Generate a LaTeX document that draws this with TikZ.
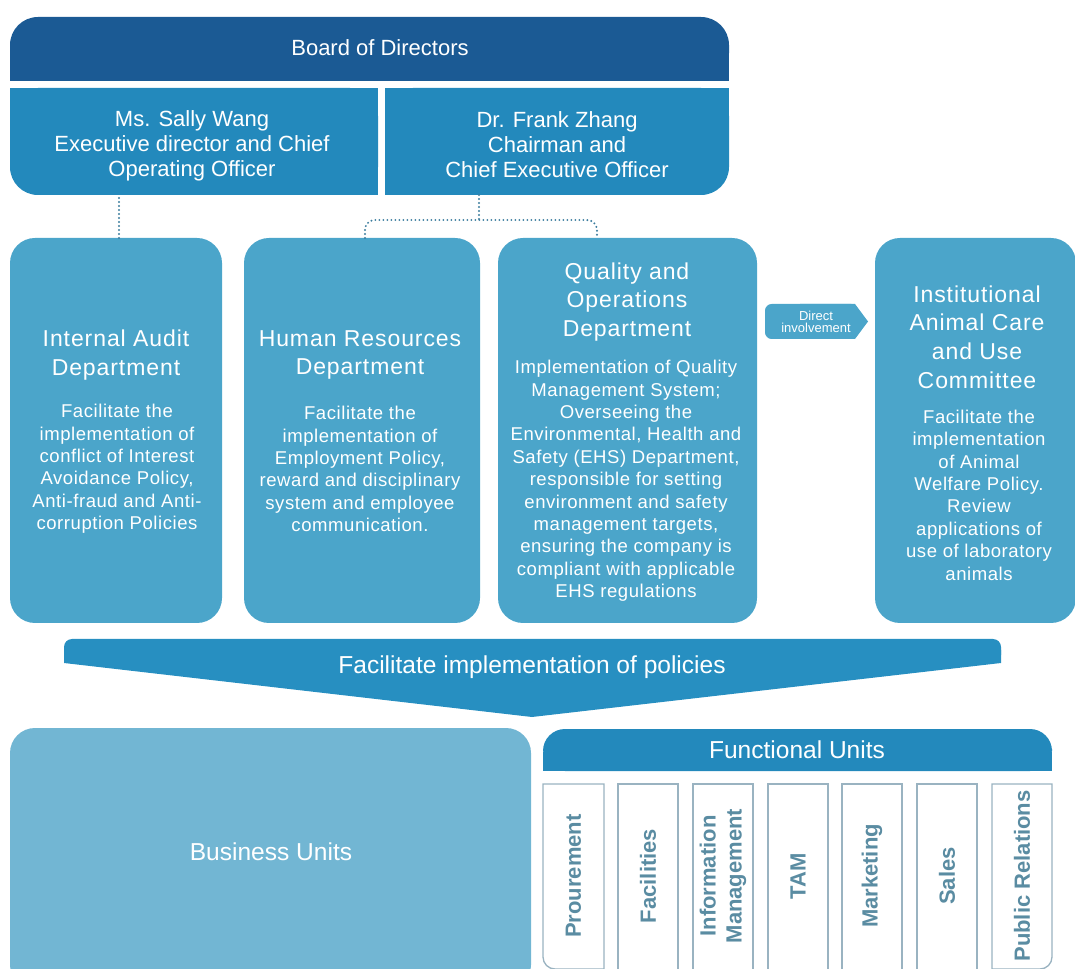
\documentclass[tikz,border=0pt]{standalone}
\usepackage{fontspec}
\setmainfont{Liberation Sans}
\newfontfamily\titlefont[LetterSpace=4]{Liberation Sans}
\newfontfamily\bodyfont[LetterSpace=3]{Liberation Sans}
\usetikzlibrary{calc}
\definecolor{boardblue}{RGB}{27,90,148}
\definecolor{execblue}{RGB}{35,137,188}
\definecolor{deptblue}{RGB}{75,165,202}
\definecolor{funnelblue}{RGB}{39,143,193}
\definecolor{bizblue}{RGB}{114,182,211}
\definecolor{dotcol}{RGB}{60,125,158}
\definecolor{colline}{RGB}{154,179,193}
\definecolor{coltext}{RGB}{90,140,162}
\begin{document}
\begin{tikzpicture}[x=0.75pt,y=-0.75pt,
  frame/.style={inner sep=0pt, outer sep=0pt, draw=none},
  deptbox/.style={frame, fill=deptblue, rounded corners=18.75pt, minimum height=288.75pt},
  whitetext/.style={text=white, align=center, inner sep=0pt},
  headtext/.style={whitetext, font=\fontsize{16.5pt}{18.75pt}\selectfont},
  depttitle/.style={whitetext, font=\titlefont\fontsize{17.25pt}{21.6pt}\selectfont},
  deptbody/.style={whitetext, font=\bodyfont\fontsize{13.9pt}{16.8pt}\selectfont},
  bigtext/.style={whitetext, font=\fontsize{18.4pt}{22pt}\selectfont},
  unittext/.style={text=coltext, align=center, inner sep=0pt, rotate=90,
    font=\bfseries\fontsize{16.5pt}{19.5pt}\selectfont},
  unitbox/.style={draw=colline, line width=1pt, fill=white},
  dotline/.style={draw=dotcol, line width=1.6pt, line cap=round, dash pattern=on 0pt off 3pt}
]
\useasboundingbox (0,0) rectangle (1075,969);
\clip (0,0) rectangle (1075,969);

% ---- Board of Directors (top corners rounded)
\fill[boardblue, rounded corners=21pt] (10,17) rectangle (729,81);
\fill[boardblue] (10,50) rectangle (729,81);
\node[headtext] (board) at (380,48) {Board of Directors};

% ---- executive boxes
\fill[execblue, rounded corners=21pt] (10,88) rectangle (378,195);
\fill[execblue] (10,88) rectangle (378,150);
\fill[execblue] (200,88) rectangle (378,195);
\fill[execblue, rounded corners=21pt] (385,88) rectangle (729,195);
\fill[execblue] (385,88) rectangle (729,150);
\fill[execblue] (385,88) rectangle (600,195);
\node[frame, minimum width=276pt, minimum height=80.25pt] (sally) at (194,141.5) {};
\node[frame, minimum width=258pt, minimum height=80.25pt] (frank) at (557,141.5) {};
\node[headtext] (sallytext) at (192,146)
  {Ms. Sally Wang\\Executive director and Chief\\Operating Officer};
\node[headtext] (franktext) at (557,145)
  {Dr. Frank Zhang\\Chairman and\\Chief Executive Officer};

% ---- departments
\node[deptbox, minimum width=159pt]    (audit) at (116,430.5) {};
\node[deptbox, minimum width=177pt]    (hr)    at (362,430.5) {};
\node[deptbox, minimum width=194.25pt] (qo)    at (627.5,430.5) {};
\node[deptbox, minimum width=150.75pt] (iacuc) at (975.5,430.5) {};

\node[depttitle] (audittitle) at (116,355) {Internal Audit\\Department};
\node[deptbody] (auditbody) at (117,469)
  {Facilitate the\\implementation of\\conflict of Interest\\Avoidance Policy,\\Anti-fraud and Anti-\\corruption Policies};

\node[depttitle] (hrtitle) at (360,355) {Human Resources\\Department};
\node[deptbody] (hrbody) at (360,469)
  {Facilitate the\\implementation of\\Employment Policy,\\reward and disciplinary\\system and employee\\communication.};

\node[depttitle] (qotitle) at (627,302) {Quality and\\Operations\\Department};
\node[deptbody] (qobody) at (626,481)
  {Implementation of Quality\\Management System;\\Overseeing the\\Environmental, Health and\\Safety (EHS) Department,\\responsible for setting\\environment and safety\\management targets,\\ensuring the company is\\compliant with applicable\\EHS regulations};

\node[depttitle] (iacuctitle) at (977,337) {Institutional\\Animal Care\\and Use\\Committee};
\node[deptbody] (iacucbody) at (979,495)
  {Facilitate the\\implementation\\of Animal\\Welfare Policy.\\Review\\applications of\\use of laboratory\\animals};

% ---- reporting lines
\coordinate (auditdrop) at ($(audit.north)+(3,0)$);
\draw[dotline] (auditdrop) -- (auditdrop |- sally.south);
\coordinate (split) at (479,220);
\coordinate (hrdrop) at ($(hr.north)+(3,0)$);
\coordinate (qodrop) at ($(qo.north)+(-30.5,0)$);
\draw[dotline] (split |- frank.south) -- (split);
\draw[dotline, rounded corners=7.5pt] (hrdrop) -- (hrdrop |- split)
  -- (qodrop |- split) -- (qodrop);

% ---- direct involvement tag
\fill[deptblue, rounded corners=5pt] (765,304) rectangle (858,339);
\fill[deptblue] (800,304) -- (855,304) -- (868,321.5) -- (855,339) -- (800,339) -- cycle;
\node[whitetext, font=\fontsize{9.75pt}{9.4pt}\selectfont] (direct) at (816,322)
  {Direct\\involvement};

% ---- policy funnel
\fill[funnelblue, rounded corners=6pt] (64,639) rectangle (1001,663);
\fill[funnelblue] (64,650) -- (1001,650) -- (1001,663) -- (532,717) -- (64,663) -- cycle;
\node[bigtext] (policies) at (532,667) {Facilitate implementation of policies};

% ---- business units
\node[frame, fill=bizblue, rounded corners=18.75pt,
  minimum width=390.75pt, minimum height=196.5pt] (business) at (270.5,859) {};
\node[bigtext] (businesstext) at (271,852) {Business Units};

% ---- functional units
\fill[execblue, rounded corners=16.5pt] (543,729) rectangle (1052,771);
\fill[execblue] (543,752) rectangle (1052,771);
\node[bigtext] (functional) at (797,750) {Functional Units};

\draw[unitbox] (604,784) -- (543,784) -- (543,957)
  arc[start angle=180, end angle=270, radius=9pt] -- (604,969) -- cycle;
\draw[unitbox] (618,784) rectangle (678,975);
\draw[unitbox] (693,784) rectangle (753,975);
\draw[unitbox] (768,784) rectangle (828,975);
\draw[unitbox] (842,784) rectangle (902,975);
\draw[unitbox] (917,784) rectangle (977,975);
\draw[unitbox] (992,784) -- (1052,784) -- (1052,957)
  arc[start angle=0, end angle=-90, radius=9pt] -- (992,969) -- cycle;

\node[unittext] (u1) at (573.5,876) {Prourement};
\node[unittext] (u2) at (648,876) {Facilities};
\node[unittext] (u3) at (723,876) {Information\\Management};
\node[unittext] (u4) at (798,876) {TAM};
\node[unittext] (u5) at (872,876) {Marketing};
\node[unittext] (u6) at (947,876) {Sales};
\node[unittext] (u7) at (1022,876) {Public Relations};
\end{tikzpicture}
\end{document}
